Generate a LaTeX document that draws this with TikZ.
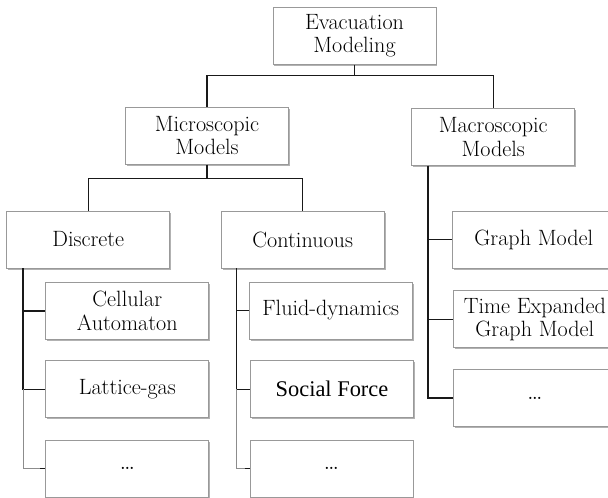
\documentclass[tikz,border=0pt]{standalone}
\usepackage{fontspec}
\newfontfamily\timesfont{Liberation Serif}[Ligatures=TeX]
\usetikzlibrary{calc,shadows}

\tikzset{
  box/.style={draw=black!40, line width=0.6pt, fill=white, rectangle,
    minimum width=122.25pt, minimum height=42.75pt, inner sep=0pt,
    align=center, font=\fontsize{16.6}{17.5}\selectfont,
    drop shadow={shadow xshift=1pt, shadow yshift=-1.3pt, opacity=0.3, fill=black}},
  conn/.style={draw=black!90, line width=0.9pt},
  faint/.style={draw=black!45, line width=0.5pt},
}
\newcommand{\moredots}{{\fontsize{20}{20}\selectfont\dots}}

\begin{document}
\begin{tikzpicture}[x=0.75pt, y=-0.75pt]
  \useasboundingbox (0,0) rectangle (608,498);
  \clip (0,0) rectangle (608,498);

  % root and first level
  \node[box] (root)  at (354.5,35.8)  {Evacuation\\Modeling};
  \node[box] (micro) at (207,135.8)   {Microscopic\\Models};
  \node[box] (macro) at (493.2,137)   {Macroscopic\\Models};

  % microscopic branch
  \node[box] (disc)  at (88.3,239.5)  {Discrete};
  \node[box] (cont)  at (302.7,239.5) {Continuous};

  \node[box] (cell)  at (127.3,311)   {Cellular\\Automaton};
  \node[box] (latt)  at (127.3,389.2) {Lattice-gas};
  \node[box] (dotsa) at (127.3,468.5) {\moredots};

  \node[box] (fluid) at (330.8,310.5) {Fluid-dynamics};
  \node[box] (social) at (332,389.2) {\timesfont\fontsize{16.8}{19}\selectfont Social Force};
  \node[box] (dotsb) at (331.5,468.5) {\moredots};

  % macroscopic branch
  \node[box] (graph) at (533.8,239.5) {Graph Model};
  \node[box] (texp)  at (534.8,319.2) {Time Expanded\\Graph Model};
  \node[box] (dotsc) at (534.8,398)   {\moredots};

  % tree connectors: root to first level
  \draw[conn] (root.south) -- ++(0,11) coordinate (rbus);
  \draw[conn] (rbus) -| (micro.north);
  \draw[conn] (rbus) -| (macro.north);

  % microscopic to discrete / continuous
  \draw[conn] (micro.south) -- ++(0,14) coordinate (mbus);
  \draw[conn] (mbus) -| (disc.north);
  \draw[conn] (mbus) -| (cont.north);

  % discrete children
  \coordinate (dtop) at ($(disc.south west)+(16.6,0)$);
  \draw[conn] (dtop) |- (cell.west);
  \draw[conn] (dtop) |- (latt.west);
  \draw[faint] (latt.west -| dtop) |- (dotsa.west);
  \draw[conn] ($(dotsa.west)+(-5,0)$) -- (dotsa.west);

  % continuous children
  \coordinate (ctop) at ($(cont.south west)+(16,0)$);
  \draw[conn] (ctop) |- (fluid.west);
  \draw[conn] (ctop) |- (social.west);
  \draw[faint] (social.west -| ctop) |- (dotsb.west);
  \draw[conn] ($(dotsb.west)+(-5,0)$) -- (dotsb.west);

  % macroscopic children
  \coordinate (gtop) at ($(macro.south west)+(16.6,0)$);
  \draw[conn] (gtop) |- (graph.west);
  \draw[conn] (gtop) |- (texp.west);
  \draw[conn] (gtop) |- (dotsc.west);
\end{tikzpicture}
\end{document}
